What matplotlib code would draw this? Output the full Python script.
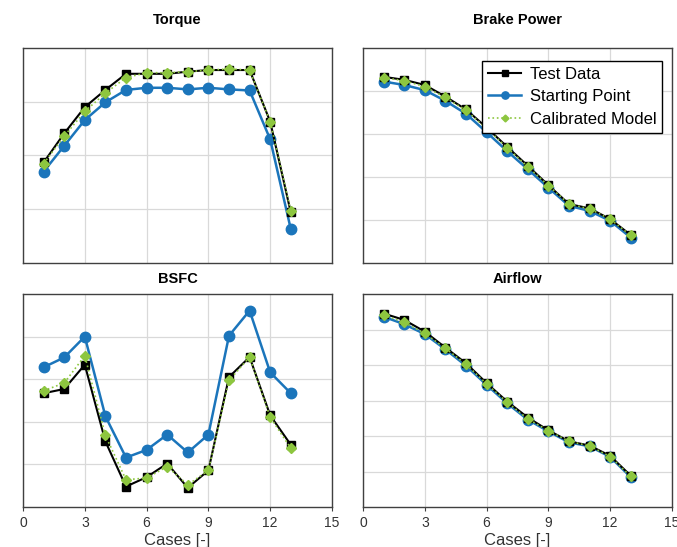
import matplotlib
matplotlib.use('Agg')
import matplotlib.pyplot as plt

cases = [1, 2, 3, 4, 5, 6, 7, 8, 9, 10, 11, 12, 13]

# normalised values (no y scale on the original)
torque_test = [1.87, 2.41, 2.90, 3.22, 3.52, 3.52, 3.52, 3.56, 3.59, 3.59, 3.59, 2.63, 0.94]
torque_start = [1.70, 2.18, 2.66, 2.99, 3.22, 3.26, 3.26, 3.23, 3.26, 3.23, 3.21, 2.30, 0.63]
torque_calib = [1.85, 2.36, 2.82, 3.16, 3.45, 3.54, 3.54, 3.56, 3.59, 3.61, 3.59, 2.63, 0.97]

power_test = [4.33, 4.26, 4.14, 3.87, 3.57, 3.15, 2.70, 2.26, 1.81, 1.37, 1.27, 1.02, 0.65]
power_start = [4.22, 4.14, 4.02, 3.77, 3.47, 3.04, 2.60, 2.18, 1.75, 1.33, 1.21, 0.98, 0.59]
power_calib = [4.31, 4.24, 4.10, 3.85, 3.55, 3.13, 2.68, 2.24, 1.80, 1.37, 1.26, 1.02, 0.64]

bsfc_test = [2.67, 2.77, 3.34, 1.54, 0.48, 0.70, 1.02, 0.45, 0.86, 3.05, 3.52, 2.15, 1.46]
bsfc_start = [3.28, 3.51, 4.00, 2.13, 1.16, 1.34, 1.70, 1.28, 1.70, 4.02, 4.61, 3.16, 2.67]
bsfc_calib = [2.73, 2.91, 3.55, 1.68, 0.64, 0.68, 0.95, 0.52, 0.86, 2.97, 3.52, 2.11, 1.38]

air_test = [5.45, 5.27, 4.94, 4.49, 4.05, 3.49, 2.97, 2.52, 2.16, 1.85, 1.73, 1.44, 0.88]
air_start = [5.36, 5.15, 4.87, 4.44, 3.98, 3.44, 2.92, 2.46, 2.13, 1.82, 1.71, 1.41, 0.84]
air_calib = [5.41, 5.20, 4.89, 4.47, 4.02, 3.47, 2.95, 2.48, 2.15, 1.85, 1.72, 1.42, 0.86]

xticks = [0, 3, 6, 9, 12, 15]

BLUE = '#1b75bb'
GREEN = '#8dc63f'

plt.rcParams['font.family'] = ['Liberation Sans', 'DejaVu Sans']

fig = plt.figure(figsize=(6.77, 5.47), dpi=100)

W, H = 677.0, 547.0
panels = [
    ('Torque', torque_test, torque_start, torque_calib, 4, (23, 48, 332, 263), 20, False),
    ('Brake Power', power_test, power_start, power_calib, 5, (363, 48, 672, 263), 20, False),
    ('BSFC', bsfc_test, bsfc_start, bsfc_calib, 5, (23, 294, 332, 507), 279, True),
    ('Airflow', air_test, air_start, air_calib, 6, (363, 294, 672, 507), 279, True),
]

axes = []
for title, t, s, c, ymax, box, ty, xlab in panels:
    x0, y0, x1, y1 = box
    ax = fig.add_axes([x0 / W, 1 - y1 / H, (x1 - x0) / W, (y1 - y0) / H])
    ax.plot(cases, t, color='black', marker='s', markersize=6, linewidth=1.5, label='Test Data', zorder=3)
    ax.plot(cases, s, color=BLUE, marker='o', markersize=7.5, linewidth=1.8, label='Starting Point', zorder=2)
    ax.plot(cases, c, color=GREEN, marker='D', markersize=5, linewidth=1.2, linestyle=':', label='Calibrated Model', zorder=4)
    ax.set_xlim(0, 15)
    ax.set_ylim(0, ymax)
    ax.set_xticks(xticks)
    ax.set_yticks(range(1, ymax))
    ax.grid(True, color='#d9d9d9', linewidth=0.9)
    ax.set_axisbelow(True)
    for sp in ax.spines.values():
        sp.set_color('#404040')
        sp.set_linewidth(1.0)
    ax.tick_params(axis='y', left=False, labelleft=False)
    if xlab:
        ax.tick_params(axis='x', length=3, color='#404040', labelsize=10, labelcolor='#333333')
        ax.set_xlabel('Cases [-]', fontsize=12, color='#333333', labelpad=2)
    else:
        ax.tick_params(axis='x', bottom=False, labelbottom=False)
    fig.text(((x0 + x1) / 2) / W, 1 - ty / H, title, ha='center', va='center',
             fontsize=10.5, fontweight='bold')
    axes.append(ax)

leg = axes[1].legend(loc='upper right', bbox_to_anchor=(0.968, 0.94), fontsize=12,
                     frameon=True, fancybox=False, framealpha=1, edgecolor='black',
                     markerscale=0.7, handlelength=2.0, borderpad=0.35, borderaxespad=0,
                     labelspacing=0.45, handletextpad=0.5)
leg.get_frame().set_linewidth(1.0)

fig.savefig('out.png', dpi=100)
